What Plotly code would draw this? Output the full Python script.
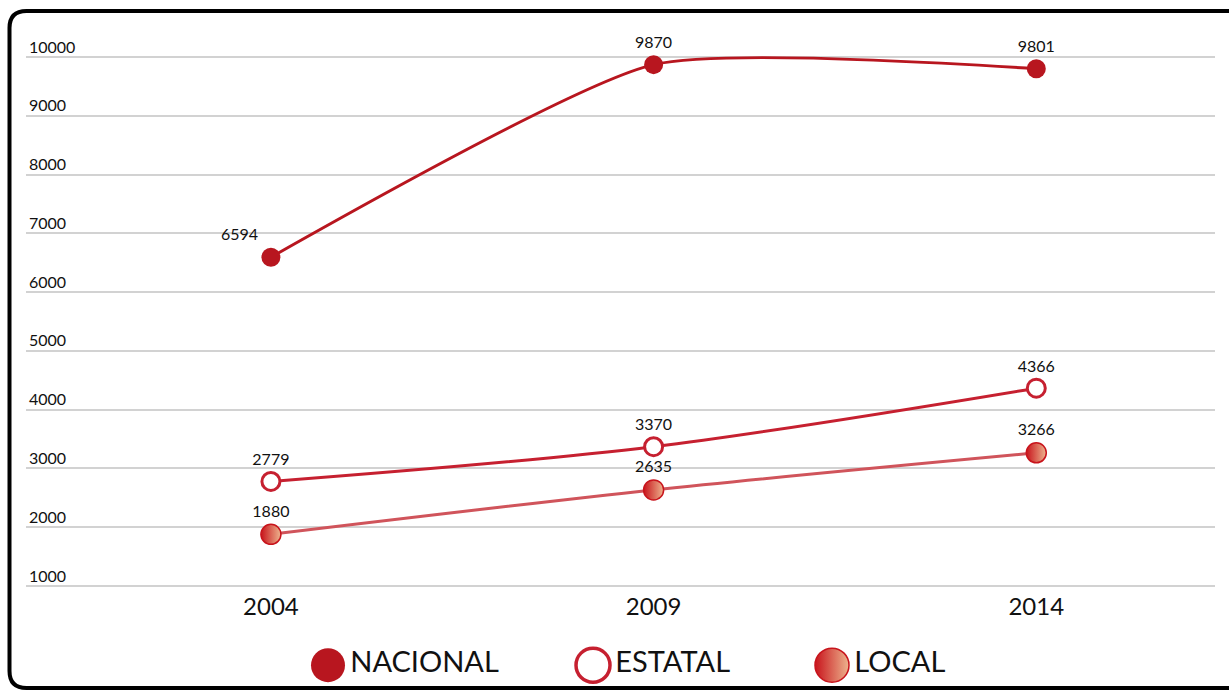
import plotly.graph_objects as go

# ---- data -------------------------------------------------------------
years = ["2004", "2009", "2014"]
nacional = [6594, 9870, 9801]
estatal = [2779, 3370, 4366]
local = [1880, 2635, 3266]
y_ticks = [1000, 2000, 3000, 4000, 5000, 6000, 7000, 8000, 9000, 10000]
series_names = ["NACIONAL", "ESTATAL", "LOCAL"]

# ---- page geometry (pixels) ------------------------------------------
W, H = 1229, 690
ML, MR, MT, MB = 26, 14, 27, 10
PW, PH = W - ML - MR, H - MT - MB
AXIS_BOTTOM = 586                      # pixel row of the 1000 gridline
AXIS_TOP = 57                          # pixel row of the 10000 gridline
PAD_BELOW = 4                          # keep the 1000 gridline off the edge
px_per_unit = (AXIS_BOTTOM - AXIS_TOP) / (10000 - 1000)
y_split = (H - MB - AXIS_BOTTOM - PAD_BELOW) / PH
y_min = 1000 - PAD_BELOW / px_per_unit
y_max = 10000 + (AXIS_TOP - MT) / px_per_unit

FONT = "Lato"
RED_DARK = "#B8161F"
RED = "#C62030"
RED_LIGHT = "#D0545B"


def px(x):
    return (x - ML) / PW


def py(y):
    return (H - MB - y) / PH


fig = go.Figure()

fig.add_trace(go.Scatter(
    x=years, y=nacional, name=series_names[0],
    mode="lines+markers+text",
    line=dict(color=RED_DARK, width=3, shape="spline", smoothing=0.55),
    marker=dict(size=19, color=RED_DARK),
    text=[str(v) for v in nacional],
    textposition=["top left", "top center", "top center"],
    textfont=dict(family=FONT, size=16, color="#111111"),
    cliponaxis=False, showlegend=False,
))

fig.add_trace(go.Scatter(
    x=years, y=estatal, name=series_names[1],
    mode="lines+markers+text",
    line=dict(color=RED, width=3, shape="spline", smoothing=0.9),
    marker=dict(size=18, color="white", line=dict(color=RED, width=3)),
    text=[str(v) for v in estatal],
    textposition="top center",
    textfont=dict(family=FONT, size=16, color="#111111"),
    cliponaxis=False, showlegend=False,
))

fig.add_trace(go.Scatter(
    x=years, y=local, name=series_names[2],
    mode="lines+markers+text",
    line=dict(color=RED_LIGHT, width=3, shape="spline", smoothing=0.9),
    marker=dict(size=20, color="#C8141C",
                gradient=dict(type="horizontal", color="#EDB48E"),
                line=dict(color="#C8141C", width=1.5)),
    text=[str(v) for v in local],
    textposition="top center",
    textfont=dict(family=FONT, size=16, color="#111111"),
    cliponaxis=False, showlegend=False,
))

# ---- custom key drawn on its own small axes below the chart -----------
key_x = [328, 593, 832]
key_y = [0.165, 0.165, 0.165]
key_markers = [
    dict(size=34, color=RED_DARK),
    dict(size=34, color="white", line=dict(color=RED, width=3.5)),
    dict(size=34, color="#C8141C",
         gradient=dict(type="horizontal", color="#EDB48E"),
         line=dict(color="#C8141C", width=1.5)),
]
for name, kx, ky, mk in zip(series_names, key_x, key_y, key_markers):
    fig.add_trace(go.Scatter(
        x=[kx], y=[ky], xaxis="x2", yaxis="y2",
        mode="markers+text", marker=mk,
        text=[name], textposition="middle right",
        textfont=dict(family=FONT, size=29, color="#111111"),
        showlegend=False, hoverinfo="skip", cliponaxis=False,
    ))

# ---- rounded frame around the card -----------------------------------
r = 17
left, top, bottom, right = 9.5, 11, 688, 1250
frame = (
    f"M {px(right)},{py(top)} L {px(left + r)},{py(top)} "
    f"Q {px(left)},{py(top)} {px(left)},{py(top + r)} "
    f"L {px(left)},{py(bottom - r)} "
    f"Q {px(left)},{py(bottom)} {px(left + r)},{py(bottom)} "
    f"L {px(right)},{py(bottom)}"
)

fig.update_layout(
    width=W, height=H, autosize=False,
    margin=dict(l=ML, r=MR, t=MT, b=MB, pad=0, autoexpand=False),
    paper_bgcolor="white", plot_bgcolor="white",
    font=dict(family=FONT, color="#111111"),
    xaxis=dict(
        type="category", range=[-0.64, 2.467],
        showgrid=False, zeroline=False, showline=False, ticks="",
        ticklabelstandoff=0, automargin=False,
        tickfont=dict(family=FONT, size=24, color="#111111"),
        anchor="y", fixedrange=True,
    ),
    yaxis=dict(
        domain=[y_split, 1], range=[y_min, y_max],
        tickvals=y_ticks, ticktext=[str(v) for v in y_ticks],
        showgrid=True, gridcolor="#D2D2D2", gridwidth=2,
        zeroline=False, showline=False, ticks="",
        ticklabelposition="inside", ticklabelshift=-10,
        ticklabelstandoff=0, ticklabeloverflow="allow", automargin=False,
        tickfont=dict(family=FONT, size=16, color="#111111"),
        fixedrange=True,
    ),
    xaxis2=dict(domain=[0, 1], range=[ML, W - MR], visible=False,
                anchor="y2", fixedrange=True, automargin=False),
    yaxis2=dict(domain=[0, y_split], range=[0, 1], visible=False,
                anchor="x2", fixedrange=True, automargin=False),
    shapes=[dict(type="path", path=frame, xref="paper", yref="paper",
                 line=dict(color="black", width=4), layer="above")],
)

fig.write_html("out.html")
